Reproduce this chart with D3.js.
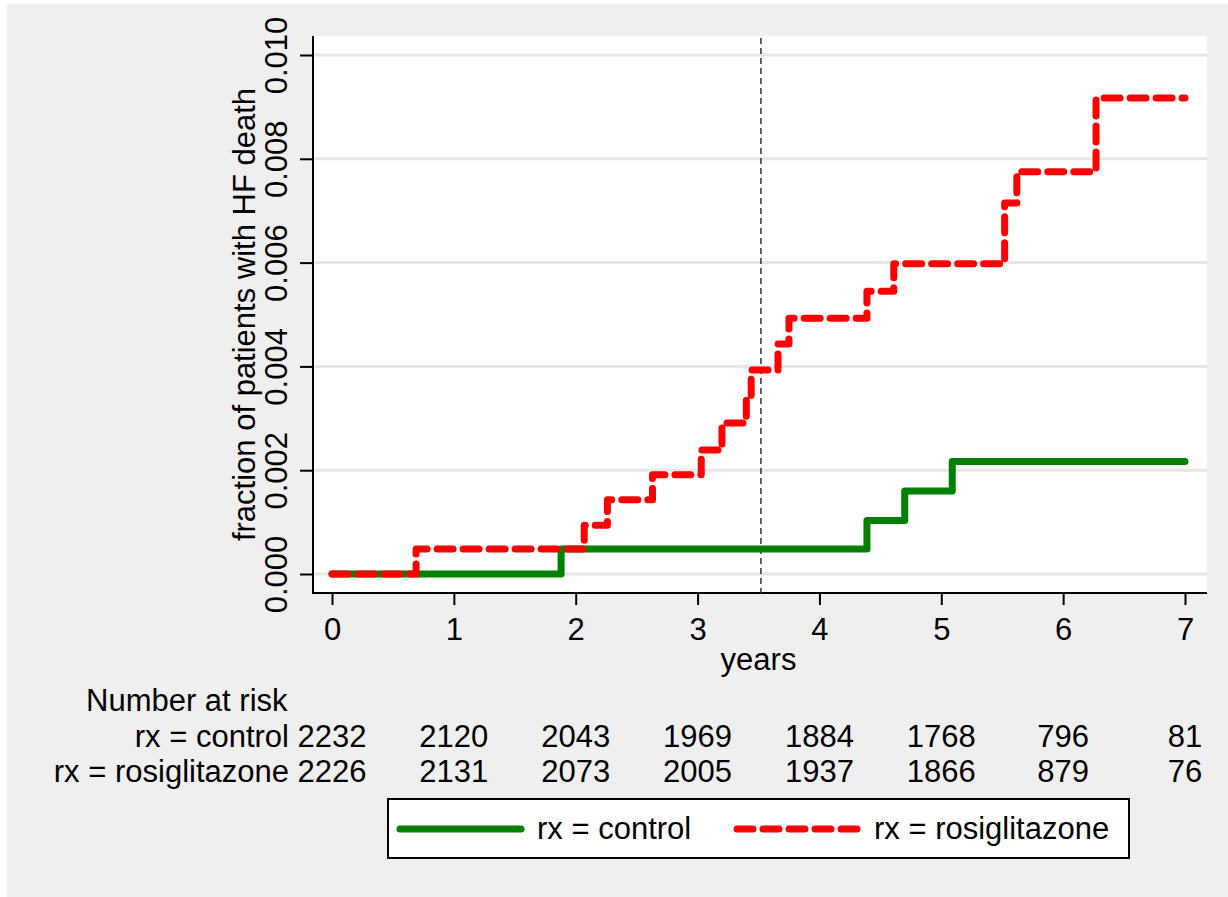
<!DOCTYPE html>
<html>
<head>
<meta charset="utf-8">
<script src="https://cdn.jsdelivr.net/npm/d3@7"></script>
<style>
  body { margin: 0; background: #fff; }
  svg text { font-family: "Liberation Sans", Arial, sans-serif; fill: #000; }
</style>
</head>
<body>
<div id="chart"></div>
<script>
const width = 1228;
const height = 897;

// data
const xTicks = [0, 1, 2, 3, 4, 5, 6, 7];
const yTicks = [0, 0.002, 0.004, 0.006, 0.008, 0.010];

const controlTimes = [0, 1.88, 4.39, 4.70, 5.09, 7.0];
const controlFrac = [0, 0.00048, 0.00103, 0.00160, 0.00217, 0.00217];

const rosiTimes = [0, 0.69, 2.07, 2.26, 2.63, 3.03, 3.20, 3.40, 3.44, 3.66, 3.75, 4.39, 4.61, 5.52, 5.62, 6.27, 7.0];
const rosiFrac = [0, 0.00048, 0.00094, 0.00143, 0.00191, 0.00239, 0.00291, 0.00341, 0.00393, 0.00443, 0.00493, 0.00545, 0.00598, 0.00715, 0.00775, 0.00917, 0.00917];

const riskLabels = ["rx = control", "rx = rosiglitazone"];
const riskControl = [2232, 2120, 2043, 1969, 1884, 1768, 796, 81];
const riskRosi = [2226, 2131, 2073, 2005, 1937, 1866, 879, 76];

const refLine = 3.52;

const green = "#008000";
const red = "#ff0000";
const fs = 31;

const svg = d3.select("#chart").append("svg")
  .attr("width", width)
  .attr("height", height)

svg.append("rect")
  .attr("x", 7).attr("y", 4)
  .attr("width", width - 7).attr("height", height - 4)
  .attr("fill", "#efefef")

// plot region
const plot = { left: 313, top: 36, right: 1207, bottom: 593 };

svg.append("rect")
  .attr("x", plot.left).attr("y", plot.top)
  .attr("width", plot.right - plot.left)
  .attr("height", plot.bottom - plot.top)
  .attr("fill", "#fff")

const x = d3.scaleLinear().domain([0, 7]).range([332, 1185]);
const y = d3.scaleLinear().domain([0, 0.010]).range([574, 55]);

// gridlines
svg.append("g")
  .selectAll("line")
  .data(yTicks)
  .enter().append("line")
    .attr("x1", plot.left).attr("x2", plot.right)
    .attr("y1", d => y(d)).attr("y2", d => y(d))
    .attr("stroke", "#e6e6e6")
    .attr("stroke-width", 3)

// y axis
const yAxis = svg.append("g")
  .attr("transform", `translate(${plot.left},0)`)
  .call(d3.axisLeft(y).tickValues(yTicks).tickSize(13).tickFormat(d3.format(".3f")))

yAxis.select(".domain").remove();
yAxis.selectAll(".tick line").attr("stroke", "#000").attr("stroke-width", 2);
yAxis.selectAll(".tick text")
  .attr("x", null).attr("dy", null)
  .attr("transform", "translate(-26,0) rotate(-90)")
  .attr("text-anchor", "middle")
  .style("font-size", fs + "px")
  .style("font-family", "'Liberation Sans', Arial, sans-serif")

svg.append("line")
  .attr("x1", plot.left).attr("x2", plot.left)
  .attr("y1", plot.top).attr("y2", plot.bottom + 1)
  .attr("stroke", "#000").attr("stroke-width", 2)

// x axis
const xAxis = svg.append("g")
  .attr("transform", `translate(0,${plot.bottom})`)
  .call(d3.axisBottom(x).tickValues(xTicks).tickSize(12).tickFormat(d3.format("d")))

xAxis.select(".domain").remove();
xAxis.selectAll(".tick line").attr("stroke", "#000").attr("stroke-width", 2);
xAxis.selectAll(".tick text")
  .attr("y", 47).attr("dy", null)
  .style("font-size", fs + "px")
  .style("font-family", "'Liberation Sans', Arial, sans-serif")

svg.append("line")
  .attr("x1", plot.left - 1).attr("x2", plot.right)
  .attr("y1", plot.bottom).attr("y2", plot.bottom)
  .attr("stroke", "#000").attr("stroke-width", 2)

// axis titles
svg.append("text")
  .attr("transform", `translate(255,${(plot.top + plot.bottom) / 2}) rotate(-90)`)
  .attr("text-anchor", "middle")
  .style("font-size", fs + "px")
  .text("fraction of patients with HF death")

svg.append("text")
  .attr("x", (x(0) + x(7)) / 2)
  .attr("y", 670)
  .attr("text-anchor", "middle")
  .style("font-size", fs + "px")
  .text("years")

// reference line
svg.append("line")
  .attr("x1", x(refLine)).attr("x2", x(refLine))
  .attr("y1", plot.top + 2).attr("y2", plot.bottom)
  .attr("stroke", "#333")
  .attr("stroke-width", 1.5)
  .attr("stroke-dasharray", "6 4")

// step curves
const step = d3.line()
  .x(d => x(d[0]))
  .y(d => y(d[1]))
  .curve(d3.curveStepAfter)

svg.append("path")
  .datum(d3.zip(controlTimes, controlFrac))
  .attr("d", step)
  .attr("fill", "none")
  .attr("stroke", green)
  .attr("stroke-width", 7)
  .attr("stroke-linecap", "round")
  .attr("stroke-linejoin", "round")

svg.append("path")
  .datum(d3.zip(rosiTimes, rosiFrac))
  .attr("d", step)
  .attr("fill", "none")
  .attr("stroke", red)
  .attr("stroke-width", 7)
  .attr("stroke-linecap", "round")
  .attr("stroke-linejoin", "round")
  .attr("stroke-dasharray", "16 10")

// number at risk table
svg.append("text")
  .attr("x", 86).attr("y", 711)
  .style("font-size", fs + "px")
  .text("Number at risk")

const riskRows = [riskControl, riskRosi];
const rowY = [747, 782];

riskRows.forEach(function(row, i) {
  svg.append("text")
    .attr("x", 289).attr("y", rowY[i])
    .attr("text-anchor", "end")
    .style("font-size", fs + "px")
    .text(riskLabels[i])

  svg.append("g")
    .selectAll("text")
    .data(row)
    .enter().append("text")
      .attr("x", (d, j) => x(xTicks[j]))
      .attr("y", rowY[i])
      .attr("text-anchor", "middle")
      .style("font-size", fs + "px")
      .text(d => d)
})

// legend
const legend = svg.append("g");

legend.append("rect")
  .attr("x", 388).attr("y", 799)
  .attr("width", 741).attr("height", 59)
  .attr("fill", "#fff")
  .attr("stroke", "#000")
  .attr("stroke-width", 2)

const legendItems = [
  { label: "rx = control", color: green, dash: null, x0: 400, x1: 521, tx: 537 },
  { label: "rx = rosiglitazone", color: red, dash: "16 10", x0: 737, x1: 857, tx: 874 }
];

legendItems.forEach(function(d) {
  legend.append("line")
    .attr("x1", d.x0).attr("x2", d.x1)
    .attr("y1", 829).attr("y2", 829)
    .attr("stroke", d.color)
    .attr("stroke-width", 7)
    .attr("stroke-linecap", "round")
    .attr("stroke-dasharray", d.dash)

  legend.append("text")
    .attr("x", d.tx).attr("y", 839)
    .style("font-size", fs + "px")
    .text(d.label)
})
</script>
</body>
</html>
